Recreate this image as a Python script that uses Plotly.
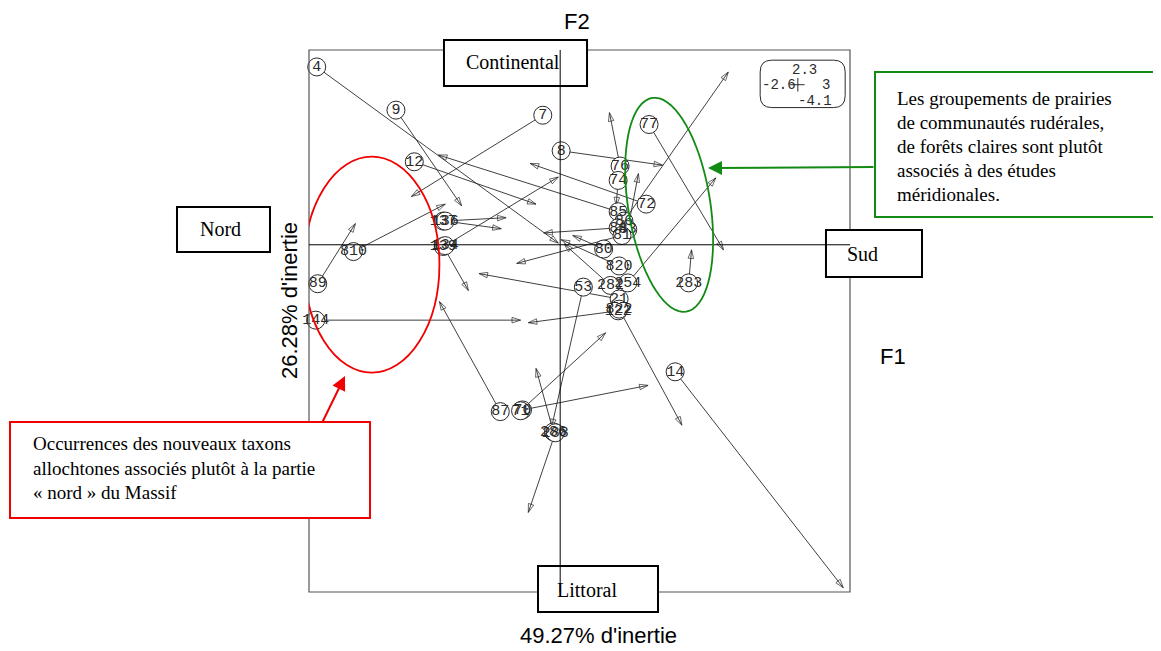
import numpy as np
import plotly.graph_objects as go

# site labels (circle) -> matched point (arrow head), co-inertia F1/F2 plane
labels = ["4", "9", "7", "12", "8", "77", "76", "74", "72", "85", "86", "84", "83", "81",
          "137", "136", "139", "134", "810", "89", "144", "80", "820", "254", "282", "283",
          "53", "21", "122", "822", "14", "87", "70", "71", "286", "288"]
x_start = [-2.52, -1.70, -0.18, -1.51, 0.01, 0.92, 0.62, 0.60, 0.89, 0.60, 0.66, 0.60, 0.70, 0.64,
           -1.21, -1.19, -1.21, -1.19, -2.14, -2.51, -2.53, 0.45, 0.61, 0.70, 0.52, 1.33,
           0.24, 0.61, 0.60, 0.61, 1.19, -0.62, -0.39, -0.41, -0.07, -0.05]
y_start = [2.10, 1.59, 1.53, 0.98, 1.11, 1.42, 0.93, 0.76, 0.48, 0.39, 0.28, 0.20, 0.18, 0.11,
           0.28, 0.28, -0.02, -0.01, -0.08, -0.46, -0.89, -0.05, -0.25, -0.45, -0.48, -0.45,
           -0.50, -0.64, -0.78, -0.76, -1.50, -1.97, -1.95, -1.96, -2.21, -2.22]
x_end = [-0.02, -1.02, -1.54, -0.25, 1.06, 1.69, 0.51, 0.58, -0.31, -1.26, 1.74, -0.17, 0.81, -0.45,
         -0.56, -0.61, -0.95, -0.02, -1.19, -2.12, -0.41, 0.13, 0.01, 1.61, 0.04, 1.36,
         -0.09, -0.84, -0.33, 1.26, 2.93, -1.25, 0.91, 0.47, -0.25, -0.33]
y_end = [0.02, 0.46, 0.57, 0.48, 0.94, -0.06, 1.56, 0.46, 0.96, 1.06, 2.04, 0.14, 0.84, -0.22,
         0.32, 0.19, -0.54, 0.80, 0.48, 0.25, -0.89, 0.11, 0.06, 0.79, 0.01, -0.06,
         -2.16, -0.34, -0.92, -2.13, -4.05, -0.67, -1.66, -1.04, -1.46, -3.16]

x_range = [-2.6, 3.0]
y_range = [-4.1, 2.3]
scale_text = ["2.3", "-2.6", "3", "-4.1"]

green_lines = ["Les groupements de prairies", "de communautés rudérales,",
               "de forêts claires sont plutôt", "associés à des études", "méridionales."]
red_lines = ["Occurrences des nouveaux taxons", "allochtones associés plutôt à la partie",
             "« nord » du Massif"]

ink = "#2a2a2a"
green = "#138a13"
red = "#f00000"

fig = go.Figure()

for i in range(len(labels)):
    fig.add_trace(go.Scatter(
        x=[x_start[i], x_end[i]], y=[y_start[i], y_end[i]],
        mode="lines+markers",
        line=dict(color=ink, width=0.9),
        marker=dict(symbol="arrow-open", size=[0, 9], angleref="previous",
                    color=ink, line=dict(color=ink, width=1)),
        hoverinfo="skip", showlegend=False))

fig.add_trace(go.Scatter(
    x=x_start, y=y_start, mode="markers+text", text=labels,
    textposition="middle center", cliponaxis=False,
    marker=dict(symbol="circle", size=18, color="white", line=dict(color=ink, width=1)),
    textfont=dict(family="Liberation Mono", size=15, color=ink),
    hoverinfo="skip", showlegend=False))

shapes = []
# plot frame
shapes.append(dict(type="rect", xref="paper", yref="paper", x0=0, x1=1, y0=0, y1=1,
                   line=dict(color="#555", width=1.2)))

def box(x0, x1, y0, y1, color="black", width=2):
    shapes.append(dict(type="rect", xref="paper", yref="paper", x0=x0, x1=x1, y0=y0, y1=y1,
                       line=dict(color=color, width=width), fillcolor="white"))

box(0.2495, 0.5139, 0.9336, 1.0185)   # Continental
box(-0.2440, -0.0721, 0.6273, 0.7103)  # Nord
box(0.9556, 1.1331, 0.5812, 0.6679)   # Sud
box(0.4233, 0.6451, -0.0369, 0.0480)  # Littoral
box(1.0462, 1.6, 0.6919, 0.9594, color=green, width=2)
box(-0.5527, 0.1128, 0.1365, 0.3137, color=red, width=2)

# F1 / F2 axes
shapes.append(dict(type="line", x0=x_range[0], x1=x_range[1], y0=0, y1=0,
                   line=dict(color="black", width=1)))
shapes.append(dict(type="line", x0=0, x1=0, y0=-4.12, y1=2.42,
                   line=dict(color="black", width=1)))

# scale box (rounded)
bx0, bx1, by0, by1, rx, ry = 2.07, 2.95, 1.62, 2.18, 0.12, 0.14
path = (f"M{bx0+rx},{by1} L{bx1-rx},{by1} Q{bx1},{by1} {bx1},{by1-ry} "
        f"L{bx1},{by0+ry} Q{bx1},{by0} {bx1-rx},{by0} L{bx0+rx},{by0} "
        f"Q{bx0},{by0} {bx0},{by0+ry} L{bx0},{by1-ry} Q{bx0},{by1} {bx0+rx},{by1} Z")
shapes.append(dict(type="path", path=path, line=dict(color=ink, width=1)))
shapes.append(dict(type="line", x0=2.38, x1=2.53, y0=1.89, y1=1.89, line=dict(color=ink, width=1)))
shapes.append(dict(type="line", x0=2.46, x1=2.46, y0=1.81, y1=1.97, line=dict(color=ink, width=1)))

# highlight ellipses
shapes.append(dict(type="circle", x0=-2.65, x1=-1.25, y0=-1.51, y1=1.04,
                   line=dict(color=red, width=1.8)))
t = np.linspace(0, 2 * np.pi, 73)
cx, cy = 1.128, 0.472
ux, uy = 0.1755, -1.262
vx, vy = 0.420, 0.076
ex = cx + np.cos(t) * ux + np.sin(t) * vx
ey = cy + np.cos(t) * uy + np.sin(t) * vy
epath = "M" + " L".join(f"{a:.4f},{b:.4f}" for a, b in zip(ex, ey)) + " Z"
shapes.append(dict(type="path", path=epath, line=dict(color=green, width=1.8)))

ann = []
serif = dict(family="Liberation Serif", size=20, color="black")
sans = dict(family="Liberation Sans", size=22, color="black")

def txt(x, y, s, font, xanchor="center", **kw):
    ann.append(dict(x=x, y=y, xref="paper", yref="paper", text=s, showarrow=False,
                    font=font, xanchor=xanchor, yanchor="middle", **kw))

txt(0.3771, 0.9779, "Continental", serif)
txt(-0.1645, 0.6697, "Nord", serif)
txt(1.0240, 0.6236, "Sud", serif)
txt(0.5139, 0.0037, "Littoral", serif)
for k, s in enumerate(green_lines):
    txt(1.0832, 0.9114 - k * 0.0443, s, dict(family="Liberation Serif", size=19, color="black"),
        xanchor="left")
for k, s in enumerate(red_lines):
    txt(-0.5139, 0.2731 - k * 0.0452, s, dict(family="Liberation Serif", size=19, color="black"),
        xanchor="left")

txt(0.4954, 1.0517, "F2", dict(family="Liberation Sans", size=22, color="black"))
txt(1.0795, 0.4336, "F1", dict(family="Liberation Sans", size=22, color="black"))
txt(0.5342, -0.0795, "49.27% d'inertie", sans)
txt(-0.037, 0.5387, "26.28% d'inertie", sans, textangle=-90)

mono = dict(family="Liberation Mono", size=14, color=ink)
for s, (x, y) in zip(scale_text, [(2.53, 2.06), (2.27, 1.89), (2.75, 1.89), (2.64, 1.70)]):
    ann.append(dict(x=x, y=y, text=s, showarrow=False, font=mono,
                    xanchor="center", yanchor="middle"))

# pointer arrows
ann.append(dict(x=0.7375, y=0.7823, xref="paper", yref="paper", text="", showarrow=True,
                ax=167, ay=-1, arrowhead=2, arrowsize=1.4, arrowwidth=2, arrowcolor=green))
ann.append(dict(x=0.0665, y=0.3985, xref="paper", yref="paper", text="", showarrow=True,
                ax=-23, ay=47, arrowhead=2, arrowsize=1.4, arrowwidth=2, arrowcolor=red))

# page body adds an 8px margin, so the figure is shrunk to keep the frame in place
fig.update_layout(
    width=1153, height=643,
    margin=dict(l=301, r=311, t=42, b=59),
    paper_bgcolor="white", plot_bgcolor="white",
    xaxis=dict(range=x_range, visible=False, fixedrange=True),
    yaxis=dict(range=y_range, visible=False, fixedrange=True),
    shapes=shapes, annotations=ann, showlegend=False)

fig.write_html("out.html")
